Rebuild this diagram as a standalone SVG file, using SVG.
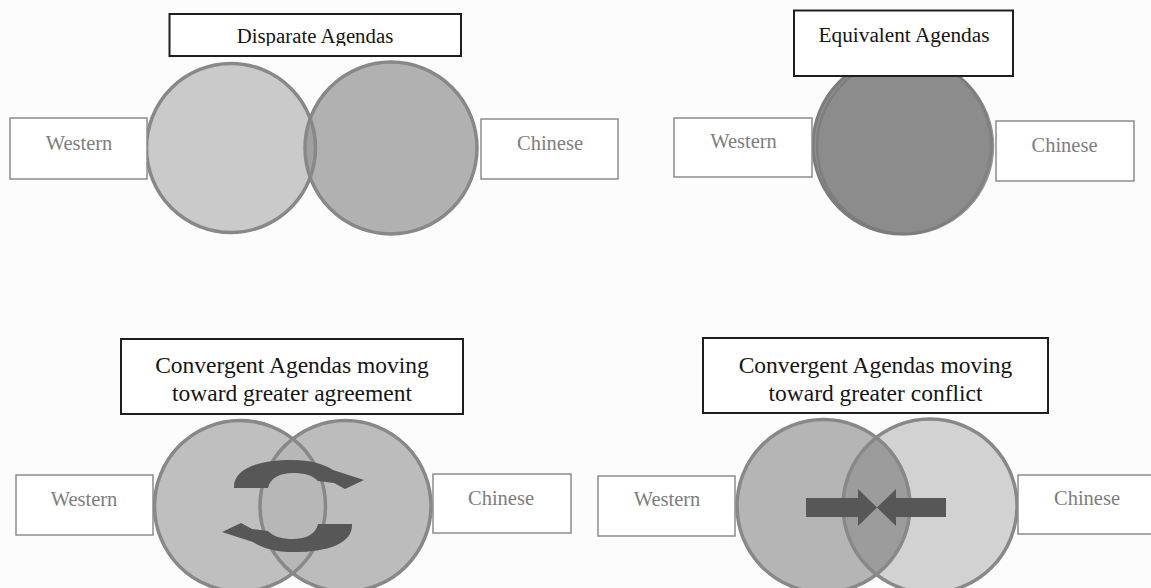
<svg xmlns="http://www.w3.org/2000/svg" width="1151" height="588" viewBox="0 0 1151 588">
  <style>
    .title-box { fill: #ffffff; stroke: #1e1e1e; stroke-width: 2; }
    .title { font-family: "Liberation Serif", "Times New Roman", serif; fill: #151515; text-anchor: middle; }
    .label-box { fill: #ffffff; stroke: #8c8c8c; stroke-width: 1.5; }
    .label { font-family: "Liberation Serif", "Times New Roman", serif; font-size: 20.5px; fill: #7e7e7e; text-anchor: middle; }
    .ring { fill: none; stroke: #888888; stroke-width: 3.5; }
    .arrow { fill: #575757; }
  </style>
  <defs>
    <clipPath id="clip-disparate-w"><circle cx="231" cy="148" r="84.5"/></clipPath>
    <clipPath id="clip-agree-w"><circle cx="240" cy="506" r="85.5"/></clipPath>
    <clipPath id="clip-conflict-w"><circle cx="823.5" cy="506" r="86.5"/></clipPath>
    <clipPath id="clip-title-1"><rect x="160" y="14" width="310" height="32"/></clipPath>
    <!-- one half of the circular arrow pair; the other half is this rotated by 180 degrees -->
    <path id="cycle-half" d="M234,488 C233,470 255,460 292,460 C310,460 324,464 333,470 L364,480 L345,489 L334,483 L318,481 C312,475 304,473 293,473 C280,473 270,478 268,488 Z"/>
  </defs>

  <rect width="1151" height="588" fill="#fcfcfc"/>

  <!-- Disparate agendas: two circles barely touching -->
  <g id="disparate">
    <g id="disparate-title">
      <rect class="title-box" x="169.5" y="14" width="291.5" height="42"/>
      <text class="title" x="315" y="43" font-size="20.8" clip-path="url(#clip-title-1)">Disparate Agendas</text>
    </g>
    <g id="disparate-circles">
      <circle cx="231" cy="148" r="84.5" fill="#cacaca"/>
      <circle cx="391" cy="148" r="86" fill="#b1b1b1"/>
      <circle cx="391" cy="148" r="86" fill="#a0a0a0" clip-path="url(#clip-disparate-w)"/>
      <circle class="ring" cx="231" cy="148" r="84.5"/>
      <circle class="ring" cx="391" cy="148" r="86"/>
    </g>
    <g id="disparate-western">
      <rect class="label-box" x="10" y="118" width="137" height="61"/>
      <text class="label" x="79" y="150">Western</text>
    </g>
    <g id="disparate-chinese">
      <rect class="label-box" x="481" y="119" width="137" height="60"/>
      <text class="label" x="550" y="150">Chinese</text>
    </g>
  </g>

  <!-- Equivalent agendas: two circles lying on top of each other -->
  <g id="equivalent">
    <g id="equivalent-circles">
      <circle cx="902" cy="145" r="89" fill="#8e8e8e" stroke="#7c7c7c" stroke-width="3"/>
      <circle cx="905" cy="146" r="88" fill="#8a8a8a" fill-opacity="0.5" stroke="#7a7a7a" stroke-width="2.5" stroke-opacity="0.8"/>
    </g>
    <g id="equivalent-title">
      <rect class="title-box" x="794" y="10.5" width="219" height="65.5"/>
      <text class="title" x="904" y="42" font-size="21.3">Equivalent Agendas</text>
    </g>
    <g id="equivalent-western">
      <rect class="label-box" x="674" y="118" width="138" height="59"/>
      <text class="label" x="743.5" y="148">Western</text>
    </g>
    <g id="equivalent-chinese">
      <rect class="label-box" x="996" y="121" width="138" height="60"/>
      <text class="label" x="1064.5" y="152">Chinese</text>
    </g>
  </g>

  <!-- Convergent agendas, greater agreement -->
  <g id="agreement">
    <g id="agreement-title">
      <rect class="title-box" x="121" y="339" width="342" height="75"/>
      <text class="title" x="292" y="373" font-size="23.5">Convergent Agendas moving</text>
      <text class="title" x="292" y="401" font-size="23.5">toward greater agreement</text>
    </g>
    <g id="agreement-circles">
      <circle cx="240" cy="506" r="85.5" fill="#bfbfbf"/>
      <circle cx="345.5" cy="506" r="85.5" fill="#bcbcbc"/>
      <circle cx="345.5" cy="506" r="85.5" fill="#b7b7b7" clip-path="url(#clip-agree-w)"/>
      <circle class="ring" cx="240" cy="506" r="85.5"/>
      <circle class="ring" cx="345.5" cy="506" r="85.5"/>
    </g>
    <g id="agreement-western">
      <rect class="label-box" x="16" y="475" width="137" height="60"/>
      <text class="label" x="84" y="506">Western</text>
    </g>
    <g id="agreement-chinese">
      <rect class="label-box" x="433" y="474" width="138" height="59"/>
      <text class="label" x="501" y="505">Chinese</text>
    </g>
  </g>

  <!-- Convergent agendas, greater conflict -->
  <g id="conflict">
    <g id="conflict-title">
      <rect class="title-box" x="703" y="338" width="345" height="75"/>
      <text class="title" x="875.5" y="373" font-size="23.5">Convergent Agendas moving</text>
      <text class="title" x="875.5" y="401" font-size="23.5">toward greater conflict</text>
    </g>
    <g id="conflict-circles">
      <circle cx="823.5" cy="506" r="86.5" fill="#b5b5b5"/>
      <circle cx="930" cy="506" r="87" fill="#d2d2d2"/>
      <circle cx="930" cy="506" r="87" fill="#9c9c9c" clip-path="url(#clip-conflict-w)"/>
      <circle class="ring" cx="823.5" cy="506" r="86.5"/>
      <circle class="ring" cx="930" cy="506" r="87"/>
    </g>
    <g id="conflict-western">
      <rect class="label-box" x="598" y="476" width="137" height="60"/>
      <text class="label" x="667" y="506">Western</text>
    </g>
    <g id="conflict-chinese">
      <rect class="label-box" x="1018" y="475" width="140" height="59"/>
      <text class="label" x="1087" y="505">Chinese</text>
    </g>
  </g>

  <!-- movement arrows drawn over the circles -->
  <g id="arrows">
    <g id="agreement-arrows">
      <use id="cycle-upper" class="arrow" href="#cycle-half"/>
      <use id="cycle-lower" class="arrow" href="#cycle-half" transform="rotate(180 293 506)"/>
    </g>
    <g id="conflict-arrows">
      <path id="push-right" class="arrow" d="M806,498 L858,498 L858,489 L877,507.5 L858,526 L858,517 L806,517 Z"/>
      <path id="push-left" class="arrow" d="M946,498 L896,498 L896,489 L877,507.5 L896,526 L896,517 L946,517 Z"/>
    </g>
  </g>
</svg>
